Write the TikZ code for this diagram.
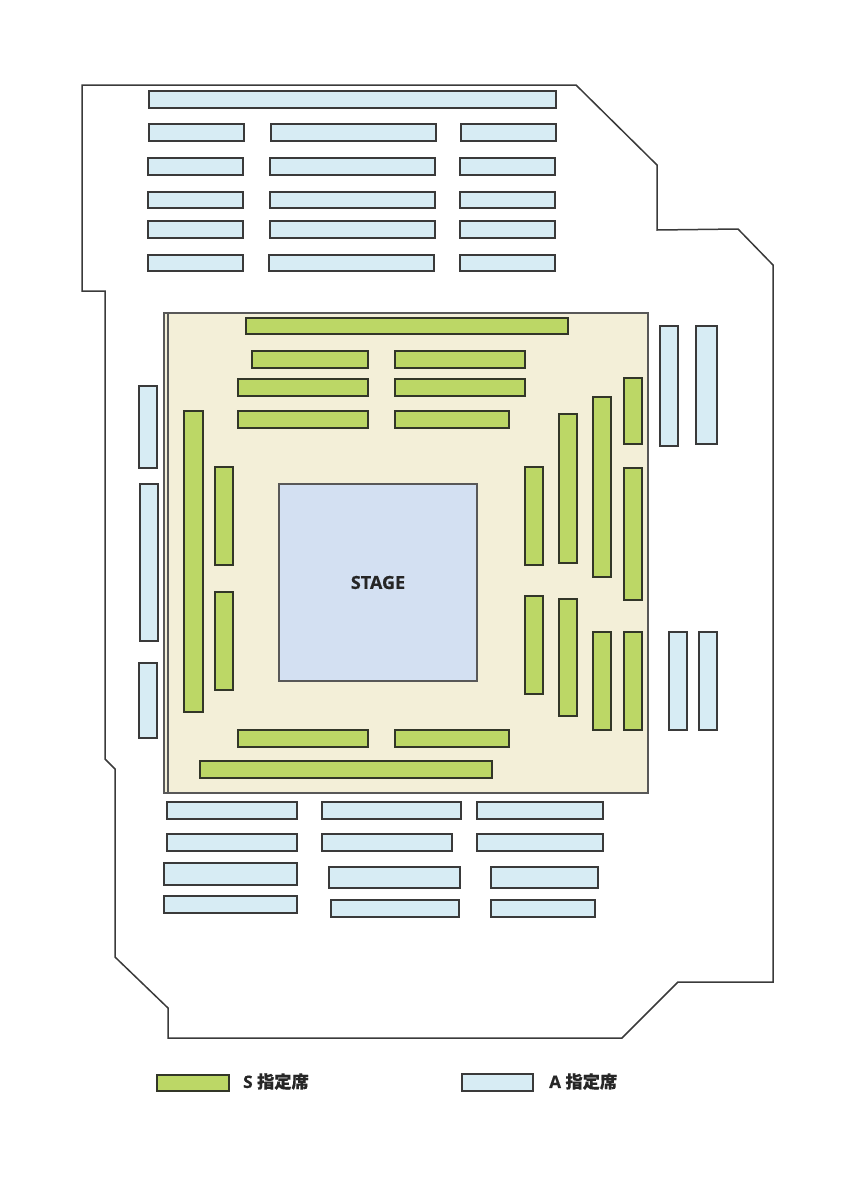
\documentclass[tikz,border=0pt]{standalone}
\usepackage{fontspec}
\setmainfont[BoldFeatures={FakeBold=0.5}]{Open Sans}
\newfontfamily\cjk[BoldFeatures={FakeBold=0.4}]{Noto Sans CJK JP}
\usetikzlibrary{positioning}
\definecolor{seatA}{HTML}{D7ECF4}
\definecolor{seatS}{HTML}{BCD766}
\definecolor{floorS}{HTML}{F3EFD8}
\definecolor{stagefill}{HTML}{D3E0F2}
\definecolor{inkline}{HTML}{3A3A3A}
\tikzset{
  wall/.style={draw=inkline, line width=1.5pt, line join=miter},
  seata/.style={draw=inkline, line width=1.2pt, fill=seatA},
  seats/.style={draw=inkline!80!seatS!60!black, line width=1.2pt, fill=seatS},
  label/.style={font=\bfseries, text=black!85, inner sep=0pt}
}
\begin{document}
\begin{tikzpicture}[x=1pt,y=-1pt]
 \useasboundingbox (0,0) rectangle (848,1200);

 %hall outline
 \draw[wall] (82,85) -- (576,85) -- (657,165) -- (657,230) -- (738,229) -- (773,265)
   -- (773,982) -- (678,982) -- (622,1038) -- (168,1038) -- (168,1008) -- (115,957)
   -- (115,769) -- (105,759) -- (105,291) -- (82,291) -- cycle;

 %floor
 \draw[fill=floorS, draw=inkline!85, line width=1.2pt] (164,313) rectangle (648,793);
 \draw[draw=inkline!85, line width=1.2pt] (168,313) -- (168,793);

 %stage
 \draw[fill=stagefill, draw=inkline!85, line width=1.2pt] (279,484) rectangle (477,681);
 \node[label, font=\bfseries\fontsize{18}{18}\selectfont] (stage) at (378,582.5) {STAGE};

 %A seats, upper block
 \foreach \xa/\ya/\xb/\yb in {149/91/556/108,
   149/124/244/141, 271/124/436/141, 461/124/556/141,
   148/158/243/175, 270/158/435/175, 460/158/555/175,
   148/192/243/208, 270/192/435/208, 460/192/555/208,
   148/221/243/238, 270/221/435/238, 460/221/555/238,
   148/255/243/271, 269/255/434/271, 460/255/555/271} {
        \draw[seata] (\xa,\ya) rectangle (\xb,\yb);
 }

 %A seats, sides
 \foreach \xa/\ya/\xb/\yb in {660/326/678/446, 696/326/717/444,
   669/632/687/730, 699/632/717/730,
   139/386/157/468, 140/484/158/641, 139/663/157/738} {
        \draw[seata] (\xa,\ya) rectangle (\xb,\yb);
 }

 %A seats, lower block
 \foreach \xa/\ya/\xb/\yb in {167/802/297/819, 322/802/461/819, 477/802/603/819,
   167/834/297/851, 322/834/452/851, 477/834/603/851,
   164/863/297/885, 329/867/460/888, 491/867/598/888,
   164/896/297/913, 331/900/459/917, 491/900/595/917} {
        \draw[seata] (\xa,\ya) rectangle (\xb,\yb);
 }

 %S seats, rows
 \foreach \xa/\ya/\xb/\yb in {246/318/568/334,
   252/351/368/368, 395/351/525/368,
   238/379/368/396, 395/379/525/396,
   238/411/368/428, 395/411/509/428,
   238/730/368/747, 395/730/509/747,
   200/761/492/778} {
        \draw[seats] (\xa,\ya) rectangle (\xb,\yb);
 }

 %S seats, columns
 \foreach \xa/\ya/\xb/\yb in {184/411/203/712,
   215/467/233/565, 215/592/233/690,
   525/467/543/565, 525/596/543/694,
   559/414/577/563, 559/599/577/716,
   593/397/611/577, 593/632/611/730,
   624/378/642/444, 624/468/642/600, 624/632/642/730} {
        \draw[seats] (\xa,\ya) rectangle (\xb,\yb);
 }

 %legend
 \draw[seats] (157,1075) rectangle (229,1091);
 \draw[seata] (462,1074) rectangle (533,1091);
 \node[label, anchor=west, font=\bfseries\fontsize{17.2}{17.2}\selectfont] (legends) at (243,1081.5) {S {\cjk 指定席}};
 \node[label, anchor=west, font=\bfseries\fontsize{17.2}{17.2}\selectfont] (legenda) at (549,1081.5) {A {\cjk 指定席}};

\end{tikzpicture}
\end{document}
